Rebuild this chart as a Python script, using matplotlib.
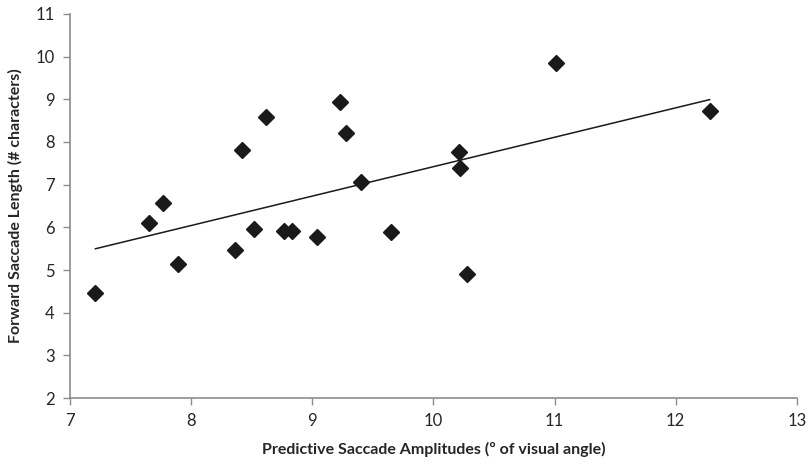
import numpy as np
import matplotlib
matplotlib.use("Agg")
import matplotlib.pyplot as plt

plt.rcParams['font.family'] = ['Lato', 'DejaVu Sans']

amplitudes = [7.21, 7.65, 7.77, 7.89, 8.36, 8.42, 8.52, 8.62, 8.77, 8.83,
              9.04, 9.23, 9.28, 9.40, 9.65, 10.21, 10.22, 10.28, 11.01, 12.28]
lengths = [4.47, 6.11, 6.58, 5.13, 5.47, 7.81, 5.95, 8.59, 5.92, 5.92,
           5.77, 8.93, 8.20, 7.07, 5.90, 7.77, 7.38, 4.90, 9.86, 8.73]

x_ticks = [7, 8, 9, 10, 11, 12, 13]
y_ticks = [2, 3, 4, 5, 6, 7, 8, 9, 10, 11]

fig = plt.figure(figsize=(8.09, 4.65), dpi=100)
ax = fig.add_axes([0.0865, 0.144, 0.8985, 0.826])

x = np.array(amplitudes)
y = np.array(lengths)
slope, intercept = np.polyfit(x, y, 1)
xl = np.array([x.min(), x.max()])
ax.plot(xl, slope * xl + intercept, color='#1a1a1a', lw=1.1, zorder=2)
ax.plot(x, y, linestyle='none', marker='D', markersize=8.5,
        color='#1a1a1a', zorder=3)

ax.set_xlim(7, 13)
ax.set_ylim(2, 11)
ax.set_xticks(x_ticks)
ax.set_yticks(y_ticks)
for s in ['top', 'right']:
    ax.spines[s].set_visible(False)
for s in ['left', 'bottom']:
    ax.spines[s].set_color('#8c8c8c')
    ax.spines[s].set_linewidth(1.2)
ax.tick_params(direction='out', length=5, width=1, color='#8c8c8c',
               labelsize=12, labelcolor='#262626', pad=6)
ax.set_xlabel('Predictive Saccade Amplitudes (º of visual angle)',
              fontsize=11.5, fontweight='bold', color='#262626', labelpad=9)
ax.set_ylabel('Forward Saccade Length (# characters)',
              fontsize=11.5, fontweight='bold', color='#262626', labelpad=9)

fig.savefig('out.png', dpi=100)
